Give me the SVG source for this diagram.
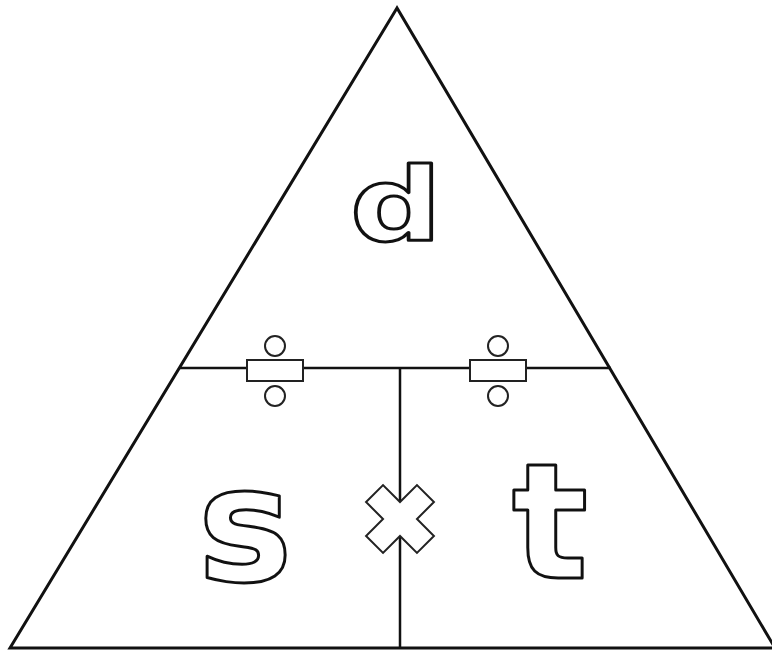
<svg xmlns="http://www.w3.org/2000/svg" width="772" height="652" viewBox="0 0 772 652">
<style>
.edge{stroke:#111;stroke-width:2.5;fill:none}
.sym{fill:#fff;stroke:#222;stroke-width:2}
.let{font-family:"DejaVu Sans",sans-serif;font-weight:bold;fill:#fff;stroke:#111;stroke-width:3;stroke-linejoin:round;text-anchor:middle}
</style>
<rect width="772" height="652" fill="#fff"/>
<g id="connectors">
<polygon points="397,8 10,648 775,648" class="edge" style="stroke-width:3;stroke-linejoin:miter"/>
<line x1="179" y1="368" x2="611" y2="368" class="edge"/>
<line x1="400" y1="368" x2="400" y2="648" class="edge"/>
</g>
<g id="div-left">
<rect x="247" y="360" width="56" height="21" class="sym"/>
<circle cx="275" cy="346" r="10" class="sym"/>
<circle cx="275" cy="396" r="10" class="sym"/>
</g>
<g id="div-right">
<rect x="470" y="360" width="56" height="21" class="sym"/>
<circle cx="498" cy="346" r="10" class="sym"/>
<circle cx="498" cy="396" r="10" class="sym"/>
</g>
<g id="times">
<polygon transform="translate(400,519) rotate(45)" points="12,-36 12,-12 36,-12 36,12 12,12 12,36 -12,36 -12,12 -36,12 -36,-12 -12,-12 -12,-36" class="sym" style="stroke-linejoin:miter"/>
</g>
<g id="node-d">
<text x="396" y="240" class="let" font-size="102" textLength="92" lengthAdjust="spacingAndGlyphs">d</text>
</g>
<g id="node-s">
<text x="245" y="581" class="let" font-size="160">s</text>
</g>
<g id="node-t">
<text x="550" y="578" class="let" font-size="160">t</text>
</g>
</svg>
